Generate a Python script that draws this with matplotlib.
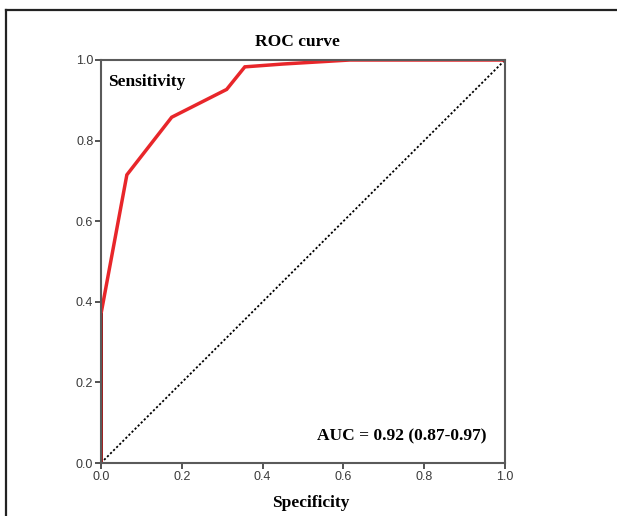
import matplotlib
matplotlib.use("Agg")
import matplotlib.pyplot as plt
from matplotlib.lines import Line2D

spec = [0.0, 0.0, 0.064, 0.175, 0.311, 0.356, 0.45, 0.616, 1.0]
sens = [0.0, 0.37, 0.715, 0.858, 0.927, 0.983, 0.99, 1.0, 1.0]
ticks = [0.0, 0.2, 0.4, 0.6, 0.8, 1.0]
tick_labels = ["0.0", "0.2", "0.4", "0.6", "0.8", "1.0"]

W, H = 617, 516
fig = plt.figure(figsize=(W / 100, H / 100), dpi=100)
ax = fig.add_axes([101 / W, 1 - 463 / H, 404 / W, 403 / H])

ax.plot([0, 1], [0, 1], color="black", linestyle=(0, (1.2, 1.2)), linewidth=1.3)
ax.plot(spec, sens, color="#e8262a", linewidth=2.5, solid_joinstyle="miter")
ax.plot([0, 0], [0, 0.37], color="#9a1a1a", linewidth=2.0)

ax.set_xlim(0, 1)
ax.set_ylim(0, 1)
ax.set_xticks(ticks)
ax.set_xticklabels(tick_labels)
ax.set_yticks(ticks)
ax.set_yticklabels(tick_labels)
for s in ax.spines.values():
    s.set_color("#5a5a5a")
    s.set_linewidth(1.5)
ax.tick_params(direction="out", length=4, width=1.3, color="#444444",
               labelsize=9, labelcolor="#3a3a3a", pad=1.5)
for lab in ax.get_xticklabels() + ax.get_yticklabels():
    lab.set_family("Liberation Sans")

serif = "Liberation Serif"
fig.text(297 / W, 1 - 42 / H, "ROC curve", ha="center", va="center",
         fontsize=12.5, fontweight="bold", family=serif)
ax.text(0.018, 0.945, "Sensitivity", transform=ax.transAxes, ha="left",
        va="center", fontsize=12.5, fontweight="bold", family=serif)
ax.text(0.955, 0.065, "AUC = 0.92 (0.87-0.97)", transform=ax.transAxes,
        ha="right", va="center", fontsize=12.5, fontweight="bold", family=serif)
fig.text(311 / W, 1 - 503 / H, "Specificity", ha="center", va="center",
         fontsize=12.5, fontweight="bold", family=serif)

# figure frame (top and left)
fig.add_artist(Line2D([6 / W, 1], [1 - 10 / H, 1 - 10 / H], color="#222222",
                      linewidth=1.6, transform=fig.transFigure))
fig.add_artist(Line2D([6 / W, 6 / W], [0, 1 - 10 / H], color="#222222",
                      linewidth=1.6, transform=fig.transFigure))

fig.savefig("out.png", dpi=100)
